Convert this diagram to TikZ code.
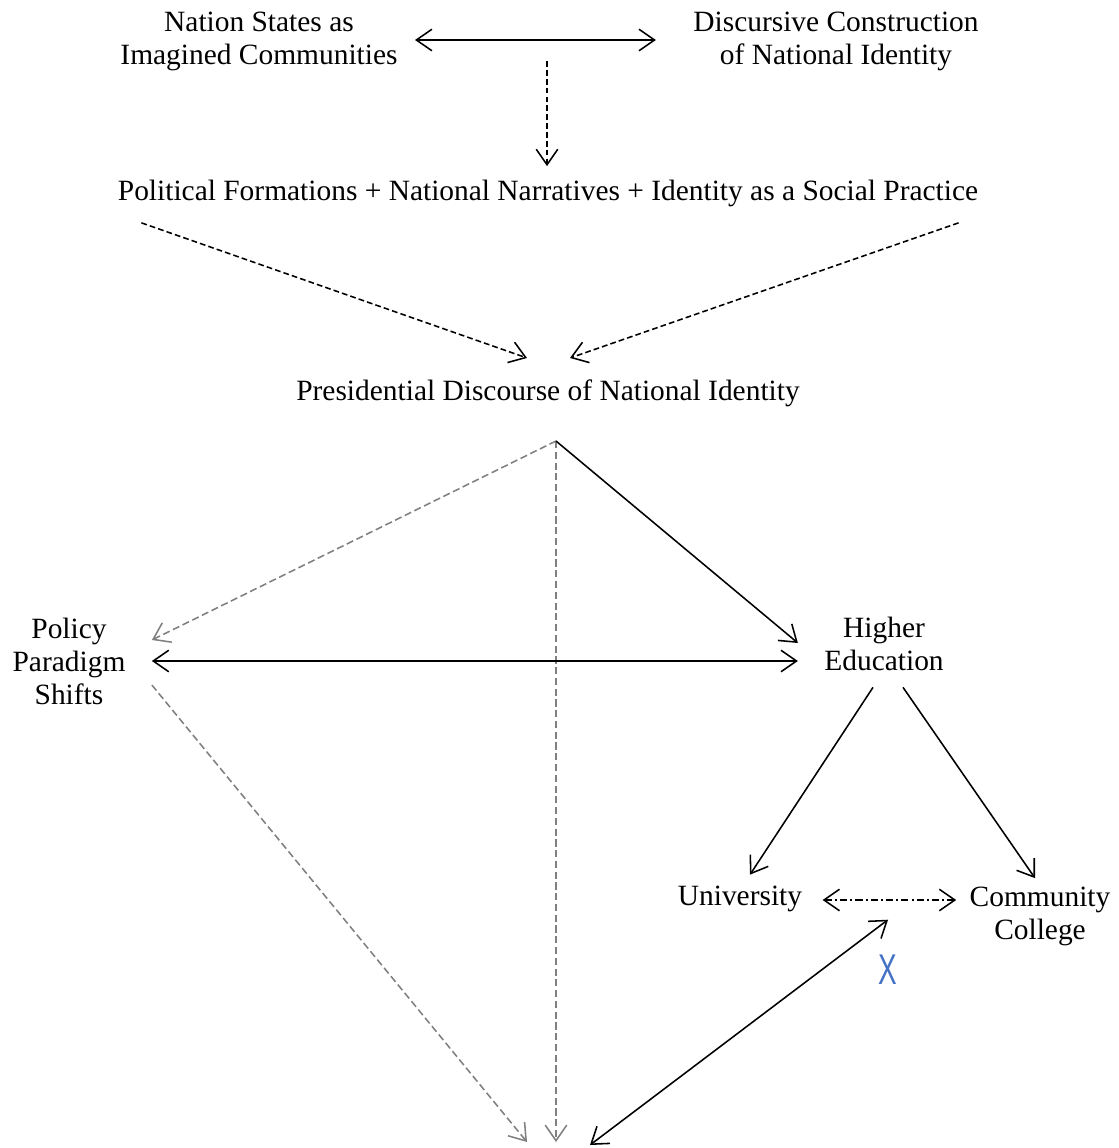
\documentclass[tikz,border=0pt]{standalone}
\usepackage{fontspec}
\setmainfont{Liberation Serif}
\newfontfamily\markfont{Liberation Sans}
\usetikzlibrary{calc}
\usetikzlibrary{arrows.meta}
\definecolor{markblue}{RGB}{68,114,196}

\begin{document}
\begin{tikzpicture}[x=0.418pt, y=-0.418pt,
	txt/.style={inner sep=0pt, align=center, font=\fontsize{12.3pt}{13.8pt}\selectfont},
	link/.style={line width=0.65pt, {Straight Barb[length=6.5pt,width=9pt]}-{Straight Barb[length=6.5pt,width=9pt]}},
	fwd/.style={line width=0.65pt, -{Straight Barb[length=6.5pt,width=9pt]}},
	dashline/.style={dash pattern=on 2.4pt off 1.3pt},
	greyline/.style={draw=black!50, dash pattern=on 3pt off 1.5pt}]
		\useasboundingbox (0,0) rectangle (1119,1148);
		\node[txt] (nation) at (259,41) {Nation States as\\Imagined Communities};
		\node[txt] (discursive) at (836,41) {Discursive Construction\\of National Identity};
		\node[txt] (political) at (548,193) {Political Formations + National Narratives + Identity as a Social Practice};
		\node[txt] (presidential) at (548,393) {Presidential Discourse of National Identity};
		\node[txt] (policy) at (69,661) {Policy\\Paradigm\\Shifts};
		\node[txt] (higher) at (884,644) {Higher\\Education};
		\node[txt] (univ) at (740,899) {University};
		\node[txt] (cc) at (1040,916) {Community\\College};
		\node[inner sep=0pt, text=markblue, font=\markfont\fontsize{18pt}{18pt}\selectfont, xscale=0.65] (xmark) at (888,970) {X};
		\coordinate (apex) at ($(presidential.south)+(8,34)$);
		\coordinate (goal) at (556,1146);
		\draw[link] ($(nation.east)+(17,-1)$) -- ($(discursive.west)+(-37,-1)$);
		\draw[fwd,dashline] ($(political.north)+(-1,-118)$) -- ($(political.north)+(-1,-13)$);
		\draw[fwd,dashline] ($(political.south west)+(24,16)$) -- ($(presidential.north)+(-21,-21)$);
		\draw[fwd,dashline] ($(political.south east)+(-20,16)$) -- ($(presidential.north)+(22,-21)$);
		\draw[fwd,greyline] (apex) -- ($(policy.east)+(26,-21)$);
		\draw[fwd,greyline] (apex) -- ($(goal)+(0,-4)$);
		\draw[fwd] (apex) -- ($(higher.west)+(-26,-1)$);
		\draw[link] ($(policy.east)+(26,0)$) -- ($(higher.west)+(-26,17)$);
		\draw[fwd,greyline] ($(policy.east)+(26,24)$) -- ($(goal)+(-29,-4)$);
		\draw[fwd] ($(higher.south)+(-11,16)$) -- ($(univ.north)+(10,-11)$);
		\draw[fwd] ($(higher.south)+(19,16)$) -- ($(cc.north)+(-5,-8)$);
		\draw[link, dash pattern=on 3pt off 1.3pt on 0.8pt off 1.3pt] ($(univ.east)+(20,1)$) -- ($(cc.west)+(-13,-16)$);
		\draw[link] ($(goal)+(34,-1)$) -- ($(xmark.north)+(0,-35)$);
	\end{tikzpicture}
\end{document}
